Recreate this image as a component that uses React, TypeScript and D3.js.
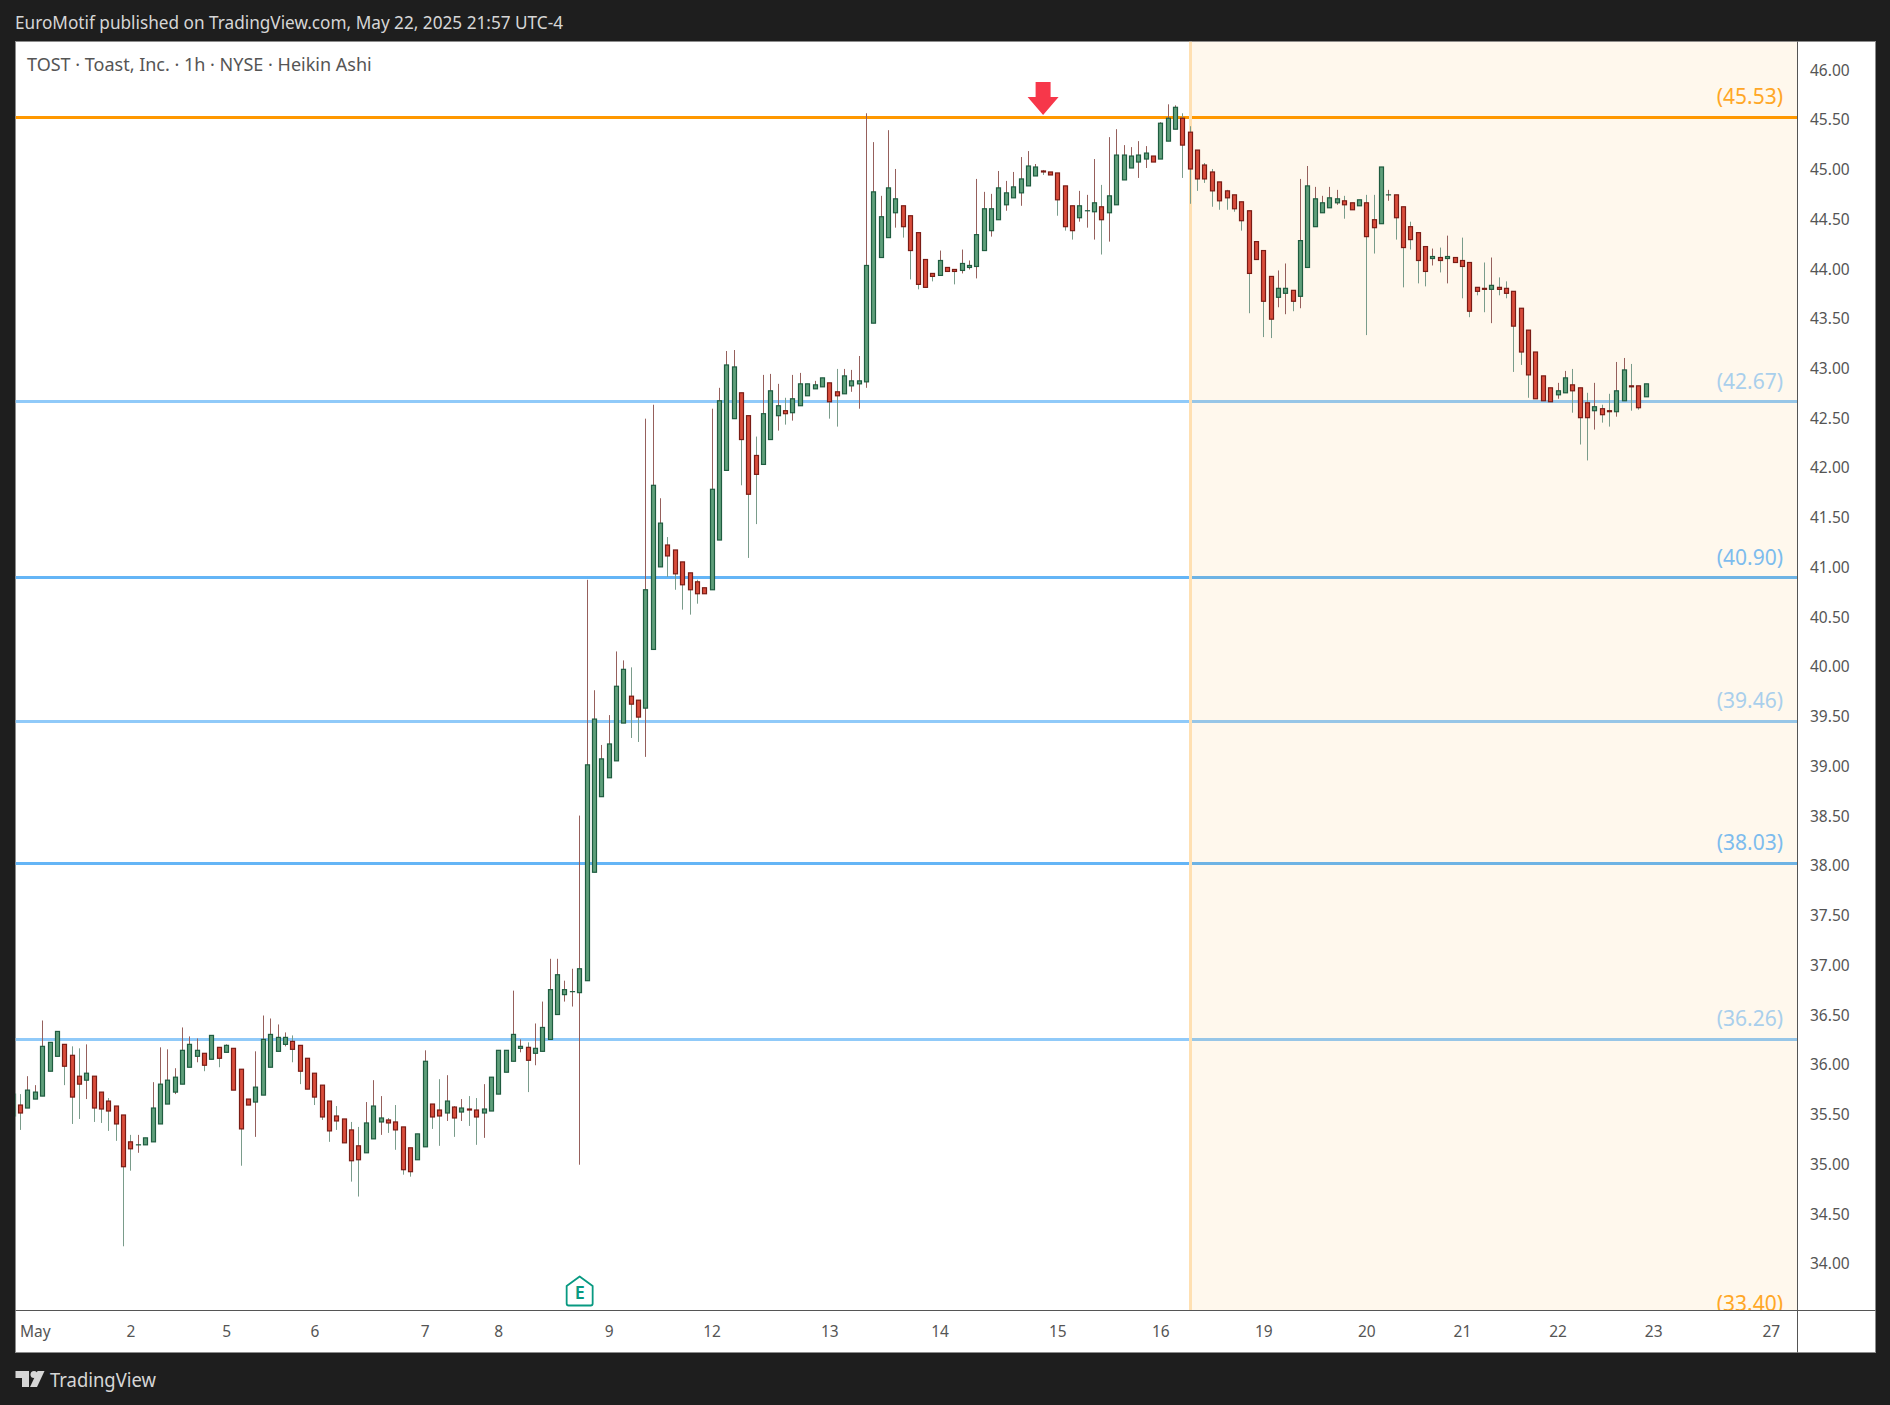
import * as d3 from 'd3';

const WIDTH = 1890;
const HEIGHT = 1405;
const PANE = { left: 15.5, right: 1797.5, top: 41.5, bottom: 1310.5, outerRight: 1875.5, outerBottom: 1352.5 };
const FONT = '"Noto Sans", sans-serif';

// Heikin Ashi 1h bars
const opens = [
  35.49, 35.6, 35.57, 35.66, 35.69, 35.94, 36.09, 36.21, 36.1, 35.89,
  35.85, 35.89, 35.73, 35.64, 35.59, 35.5, 35.23, 35.2, 35.2, 35.23,
  35.41, 35.61, 35.73, 35.81, 35.98, 36.09, 36.12, 36.06, 36.18, 36.13,
  36.17, 35.96, 35.66, 35.63, 35.7, 35.98, 36.14, 36.21, 36.24, 36.2,
  36.07, 35.92, 35.8, 35.64, 35.49, 35.46, 35.35, 35.19, 35.12, 35.26,
  35.43, 35.45, 35.43, 35.38, 35.17, 35.05, 35.18, 35.61, 35.55, 35.52,
  35.58, 35.53, 35.56, 35.55, 35.52, 35.54, 35.71, 35.93, 36.04, 36.17,
  36.18, 36.12, 36.14, 36.26, 36.51, 36.71, 36.74, 36.73, 36.85, 37.94,
  38.7, 38.89, 39.06, 39.44, 39.71, 39.67, 39.59, 40.18, 41.01, 41.23,
  41.18, 41.06, 40.95, 40.86, 40.8, 40.78, 41.28, 41.98, 42.5, 42.76,
  42.53, 42.13, 42.04, 42.29, 42.53, 42.58, 42.56, 42.63, 42.73, 42.8,
  42.82, 42.86, 42.77, 42.75, 42.83, 42.85, 42.87, 43.46, 44.12, 44.32,
  44.57, 44.64, 44.54, 44.37, 44.1, 43.96, 43.94, 44.02, 44.0, 43.99,
  44.02, 44.03, 44.19, 44.39, 44.5, 44.65, 44.72, 44.77, 44.84, 44.94,
  44.99, 44.98, 44.97, 44.84, 44.64, 44.52, 44.59, 44.58, 44.63, 44.57,
  44.65, 44.9, 45.02, 45.08, 45.11, 45.14, 45.11, 45.29, 45.41, 45.52,
  45.38, 45.2, 45.05, 44.98, 44.88, 44.79, 44.75, 44.68, 44.59, 44.28,
  44.19, 43.93, 43.72, 43.76, 43.79, 43.73, 44.02, 44.43, 44.57, 44.62,
  44.67, 44.69, 44.67, 44.64, 44.67, 44.5, 44.46, 44.75, 44.75, 44.63,
  44.43, 44.37, 44.23, 44.11, 44.12, 44.11, 44.12, 44.09, 44.07, 43.82,
  43.81, 43.8, 43.82, 43.81, 43.78, 43.61, 43.39, 43.17, 42.93, 42.81,
  42.74, 42.76, 42.84, 42.81, 42.66, 42.58, 42.6, 42.58, 42.57, 42.68,
  42.83, 42.83, 42.72,
];

const closes = [
  35.71, 35.52, 35.75, 35.73, 36.19, 36.23, 36.34, 35.99, 35.68, 35.81,
  35.92, 35.57, 35.56, 35.54, 35.41, 34.98, 35.16, 35.2, 35.27, 35.57,
  35.81, 35.85, 35.88, 36.15, 36.21, 36.15, 36.0, 36.3, 36.07, 36.2,
  35.75, 35.36, 35.6, 35.78, 36.26, 36.31, 36.28, 36.28, 36.16, 35.94,
  35.76, 35.68, 35.48, 35.34, 35.44, 35.22, 35.04, 35.05, 35.42, 35.59,
  35.47, 35.42, 35.35, 34.95, 34.93, 35.31, 36.04, 35.48, 35.49, 35.64,
  35.47, 35.57, 35.55, 35.48, 35.56, 35.88, 36.15, 36.15, 36.31, 36.19,
  36.05, 36.17, 36.38, 36.76, 36.91, 36.76, 36.74, 36.97, 39.02, 39.48,
  39.08, 39.23, 39.81, 39.98, 39.63, 39.5, 40.78, 41.83, 41.45, 41.12,
  40.94, 40.83, 40.78, 40.74, 40.74, 41.79, 42.68, 43.04, 43.02, 42.29,
  41.74, 41.94, 42.55, 42.78, 42.63, 42.55, 42.7, 42.85, 42.85, 42.84,
  42.91, 42.67, 42.73, 42.93, 42.88, 42.88, 44.04, 44.78, 44.53, 44.82,
  44.71, 44.43, 44.19, 43.85, 43.82, 43.93, 44.09, 43.98, 43.98, 44.06,
  44.04, 44.35, 44.61, 44.61, 44.82, 44.77, 44.83, 44.91, 45.04, 45.03,
  44.98, 44.95, 44.7, 44.43, 44.39, 44.64, 44.59, 44.67, 44.5, 44.74,
  45.15, 45.15, 45.14, 45.15, 45.17, 45.08, 45.47, 45.52, 45.63, 45.25,
  45.01, 44.91, 44.91, 44.79, 44.69, 44.72, 44.61, 44.49, 43.96, 44.1,
  43.68, 43.5, 43.81, 43.81, 43.68, 44.29, 44.84, 44.71, 44.67, 44.72,
  44.71, 44.65, 44.6, 44.7, 44.33, 44.42, 45.03, 44.75, 44.52, 44.22,
  44.3, 44.09, 43.98, 44.13, 44.09, 44.13, 44.07, 44.03, 43.58, 43.78,
  43.8, 43.84, 43.8, 43.76, 43.43, 43.17, 42.94, 42.7, 42.68, 42.67,
  42.78, 42.91, 42.78, 42.51, 42.51, 42.62, 42.54, 42.57, 42.78, 42.99,
  42.82, 42.61, 42.85,
];

const highs = [
  35.71, 35.71, 35.89, 35.8, 36.45, 36.23, 36.34, 36.21, 36.19, 36.17,
  36.21, 35.89, 35.73, 35.67, 35.59, 35.5, 35.3, 35.3, 35.27, 35.83,
  36.18, 36.16, 35.97, 36.38, 36.29, 36.27, 36.12, 36.3, 36.18, 36.21,
  36.17, 35.96, 35.66, 36.14, 36.5, 36.47, 36.41, 36.33, 36.3, 36.2,
  36.07, 35.92, 35.8, 35.64, 35.59, 35.46, 35.43, 35.38, 35.63, 35.85,
  35.69, 35.47, 35.6, 35.38, 35.17, 35.31, 36.15, 35.61, 35.86, 35.9,
  35.59, 35.66, 35.69, 35.67, 35.81, 35.88, 36.15, 36.15, 36.75, 36.26,
  36.23, 36.42, 36.64, 37.07, 37.07, 36.85, 36.97, 38.51, 40.88, 39.77,
  39.22, 39.52, 40.16, 40.07, 40.0, 39.67, 42.5, 42.64, 41.7, 41.31,
  41.18, 41.06, 40.95, 40.88, 40.8, 42.6, 42.81, 43.18, 43.19, 42.76,
  42.53, 42.32, 42.94, 42.95, 42.85, 42.71, 42.94, 42.96, 42.85, 42.88,
  42.91, 42.86, 43.0, 43.0, 42.99, 43.13, 45.57, 45.28, 44.74, 45.4,
  45.01, 44.64, 44.54, 44.37, 44.1, 43.96, 44.19, 44.02, 44.0, 44.2,
  44.09, 44.91, 44.78, 44.76, 44.99, 44.89, 44.98, 45.13, 45.19, 45.06,
  45.0, 44.98, 44.97, 44.84, 44.64, 44.79, 44.75, 45.11, 44.85, 45.33,
  45.41, 45.25, 45.23, 45.29, 45.24, 45.14, 45.48, 45.66, 45.65, 45.57,
  45.44, 45.2, 45.07, 45.01, 44.88, 44.8, 44.75, 44.68, 44.59, 44.28,
  44.19, 43.93, 43.99, 44.06, 43.79, 44.91, 45.04, 44.83, 44.74, 44.83,
  44.8, 44.74, 44.67, 44.7, 44.75, 44.75, 45.03, 44.8, 44.75, 44.63,
  44.48, 44.37, 44.23, 44.21, 44.22, 44.34, 44.12, 44.32, 44.07, 43.82,
  44.07, 44.12, 43.92, 43.88, 43.78, 43.61, 43.39, 43.17, 42.93, 42.81,
  42.86, 42.98, 43.0, 42.81, 42.76, 42.86, 42.64, 42.75, 43.07, 43.11,
  43.05, 42.83, 42.85,
];

const lows = [
  35.49, 35.35, 35.57, 35.66, 35.69, 35.94, 36.09, 35.8, 35.41, 35.46,
  35.66, 35.43, 35.42, 35.34, 35.24, 34.18, 34.94, 35.12, 35.2, 35.23,
  35.41, 35.61, 35.71, 35.81, 35.98, 36.03, 35.94, 36.06, 35.98, 36.13,
  35.75, 34.99, 35.6, 35.28, 35.7, 35.98, 36.14, 36.19, 36.03, 35.81,
  35.76, 35.6, 35.45, 35.23, 35.35, 35.22, 34.83, 34.68, 35.12, 35.26,
  35.3, 35.32, 35.15, 34.9, 34.88, 35.05, 35.18, 35.36, 35.19, 35.44,
  35.28, 35.44, 35.39, 35.2, 35.27, 35.54, 35.71, 35.93, 36.04, 36.13,
  35.73, 36.0, 36.14, 36.26, 36.51, 36.64, 36.59, 35.0, 36.85, 37.94,
  38.7, 38.89, 39.06, 39.44, 39.29, 39.25, 39.1, 40.18, 41.01, 40.91,
  40.78, 40.58, 40.53, 40.64, 40.74, 40.78, 41.28, 41.98, 42.5, 41.83,
  41.1, 41.44, 42.04, 42.29, 42.38, 42.44, 42.48, 42.63, 42.73, 42.8,
  42.82, 42.5, 42.42, 42.75, 42.77, 42.6, 42.81, 43.46, 44.12, 44.32,
  44.42, 44.32, 43.9, 43.8, 43.82, 43.88, 43.94, 43.98, 43.85, 43.96,
  44.0, 43.91, 44.19, 44.33, 44.5, 44.59, 44.72, 44.64, 44.84, 44.94,
  44.95, 44.95, 44.54, 44.39, 44.3, 44.48, 44.42, 44.3, 44.15, 44.28,
  44.65, 44.9, 45.02, 44.92, 45.02, 45.08, 45.11, 45.29, 45.41, 44.92,
  44.66, 44.79, 44.87, 44.63, 44.6, 44.6, 44.58, 44.39, 43.56, 44.1,
  43.32, 43.31, 43.62, 43.55, 43.58, 43.61, 44.02, 44.43, 44.57, 44.62,
  44.65, 44.51, 44.6, 44.64, 43.34, 44.16, 44.46, 44.69, 44.3, 43.82,
  44.2, 43.86, 43.83, 44.04, 43.97, 43.86, 44.07, 43.71, 43.52, 43.74,
  43.57, 43.46, 43.74, 43.71, 42.97, 43.04, 42.71, 42.7, 42.68, 42.67,
  42.7, 42.76, 42.56, 42.24, 42.08, 42.39, 42.46, 42.42, 42.52, 42.68,
  42.58, 42.59, 42.72,
];

const levelPrices = [45.53, 42.67, 40.9, 39.46, 38.03, 36.26, 33.4];
const levelColors = ['#ff9800', '#90caf9', '#64b5f6', '#90caf9', '#64b5f6', '#90caf9', '#ff9800'];
const levelLabelColors = ['#ffa726', '#a9cfec', '#7dbcee', '#a9cfec', '#7dbcee', '#a9cfec', '#ffa726'];

const timeLabels = ['May', '2', '5', '6', '7', '8', '9', '12', '13', '14', '15', '16', '19', '20', '21', '22', '23', '27'];
const timeBars = [3, 16, 29, 41, 56, 66, 81, 95, 111, 126, 142, 156, 170, 184, 197, 210, 223, 239];

const priceTicks = d3.range(34, 46.5, 0.5);

const ZONE_START_BAR = 160;
const SIGNAL_BAR = 140;
const EARNINGS_BAR = 77;

const x = d3.scaleLinear().domain([0, 222]).range([13.24, 1646.3]);
const y = d3.scaleLinear().domain([34, 46]).range([1264.2, 70.5]);

const GREEN_FILL = '#5f9f7b';
const GREEN_EDGE = '#1f5c40';
const GREEN_WICK = '#7a9c8b';
const RED_FILL = '#d94d3b';
const RED_EDGE = '#7a1c15';
const RED_WICK = '#96605c';

export default function App() {
  const zoneX = Math.floor(x(ZONE_START_BAR)) + 0.5;
  const arrowX = x(SIGNAL_BAR);
  const eX = x(EARNINGS_BAR);

  return (
    <svg
      width={WIDTH}
      height={HEIGHT}
      viewBox={`0 0 ${WIDTH} ${HEIGHT}`}
      style={{ position: 'absolute', left: 0, top: 0, display: 'block' }}
      fontFamily={FONT}
    >
      <defs>
        <clipPath id="pane">
          <rect x={PANE.left} y={PANE.top} width={PANE.right - PANE.left} height={PANE.bottom - PANE.top} />
        </clipPath>
      </defs>

      <rect width={WIDTH} height={HEIGHT} fill="#1e1e1e" />
      <rect
        x={PANE.left}
        y={PANE.top}
        width={PANE.outerRight - PANE.left}
        height={PANE.outerBottom - PANE.top}
        fill="#ffffff"
        stroke="#8c8c8c"
        strokeWidth={1}
      />

      <g clipPath="url(#pane)">
        {levelPrices.map((price, i) => (
          <line
            key={price}
            x1={PANE.left}
            x2={PANE.right}
            y1={Math.floor(y(price)) + 0.5}
            y2={Math.floor(y(price)) + 0.5}
            stroke={levelColors[i]}
            strokeWidth={3}
          />
        ))}
        <rect
          x={zoneX}
          y={PANE.top}
          width={PANE.right - zoneX}
          height={PANE.bottom - PANE.top}
          fill="#ff9800"
          fillOpacity={0.07}
        />
        <line x1={zoneX} x2={zoneX} y1={PANE.top} y2={PANE.bottom} stroke="#ffe0b2" strokeWidth={3} />

        {levelPrices.map((price, i) => (
          <text
            key={price}
            x={1783}
            y={y(price) - 13}
            textAnchor="end"
            fontSize={21}
            fill={levelLabelColors[i]}
          >
            {`(${price.toFixed(2)})`}
          </text>
        ))}

        {opens.map((open, i) => {
          const close = closes[i];
          const up = close >= open;
          const cx = Math.floor(x(i)) + 0.5;
          const top = y(Math.max(open, close));
          const bottom = y(Math.min(open, close));
          return (
            <g key={i}>
              <line
                x1={cx}
                x2={cx}
                y1={y(highs[i])}
                y2={y(lows[i])}
                stroke={up ? RED_WICK : GREEN_WICK}
                strokeWidth={1}
              />
              <rect
                x={cx - 2}
                y={top}
                width={4}
                height={Math.max(bottom - top, 0.01)}
                fill={up ? GREEN_FILL : RED_FILL}
                stroke={up ? GREEN_EDGE : RED_EDGE}
                strokeWidth={1.2}
              />
            </g>
          );
        })}

        {/* sell arrow */}
        <path
          transform={`translate(${arrowX},82)`}
          d="M-7.5,0 H7.5 V15 H15.5 L0,33 L-15.5,15 H-7.5 Z"
          fill="#f7374a"
        />

        {/* earnings marker */}
        <g transform={`translate(${eX},1276)`}>
          <path
            d="M0,0.5 L13,10 V27.5 Q13,29.5 11,29.5 H-11 Q-13,29.5 -13,27.5 V10 Z"
            fill="#ffffff"
            stroke="#089981"
            strokeWidth={1.8}
            strokeLinejoin="round"
          />
          <text y={22.7} textAnchor="middle" fontSize={18} fontWeight={600} fill="#089981">
            E
          </text>
        </g>
      </g>

      {/* axes */}
      <line x1={PANE.left} x2={PANE.outerRight} y1={PANE.bottom} y2={PANE.bottom} stroke="#555555" strokeWidth={1} />
      <line x1={PANE.right} x2={PANE.right} y1={PANE.top} y2={PANE.outerBottom} stroke="#555555" strokeWidth={1} />

      {priceTicks.map((tick) => (
        <text key={tick} x={1810} y={y(tick) - 0.5} dy="0.36em" fontSize={15.5} fill="#555555">
          {tick.toFixed(2)}
        </text>
      ))}

      {timeLabels.map((label, i) => (
        <text
          key={label}
          x={x(timeBars[i])}
          y={1331.5}
          dy="0.36em"
          textAnchor="middle"
          fontSize={15.5}
          fill="#555555"
        >
          {label}
        </text>
      ))}

      {/* captions */}
      <text x={15} y={29} fontSize={17.2} fill="#d6d6d6">
        EuroMotif published on TradingView.com, May 22, 2025 21:57 UTC-4
      </text>
      <text x={27} y={70.5} fontSize={18} fill="#555555">
        TOST · Toast, Inc. · 1h · NYSE · Heikin Ashi
      </text>

      {/* footer logo */}
      <g fill="#d6d6d6" transform="translate(15.5,1371)">
        <path d="M0,0 H13.5 V16 H6.5 V7 H0 Z" />
        <circle cx={18.5} cy={3.5} r={3.5} />
        <path d="M22,0 H29 L21.5,16 H14.5 Z" />
      </g>
      <text x={50} y={1387} fontSize={19} textLength={106} lengthAdjust="spacingAndGlyphs" fill="#d6d6d6">
        TradingView
      </text>
    </svg>
  );
}
